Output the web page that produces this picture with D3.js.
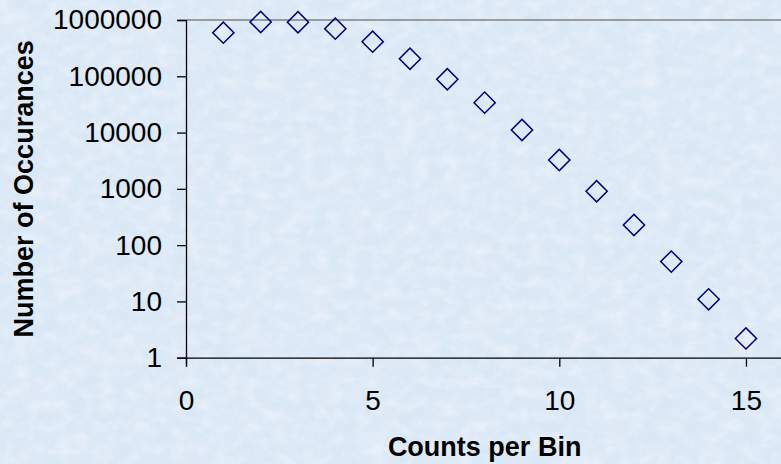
<!DOCTYPE html>
<html>
<head>
<meta charset="utf-8">
<script src="https://cdn.jsdelivr.net/npm/d3@7"></script>
<style>
  html, body { margin: 0; padding: 0; overflow: hidden; background: #d9e7f5; }
  svg { display: block; }
</style>
</head>
<body>
<svg id="chart" width="781" height="464"></svg>
<script>
// Histogram of counts per bin (log scale)
const countsPerBin = [1, 2, 3, 4, 5, 6, 7, 8, 9, 10, 11, 12, 13, 14, 15];
const occurances = [595000, 922000, 912000, 701000, 412000, 205000, 88500, 34000, 11100, 3260, 906, 228, 51, 10.9, 2.2];
const xTickValues = [0, 5, 10, 15];
const yTickValues = [1, 10, 100, 1000, 10000, 100000, 1000000];

const W = 781, H = 464;
const margin = { left: 186, top: 20, bottom: 106.3 };

const svg = d3.select("#chart");

// mottled blue paper background
const defs = svg.append("defs");
const f = defs.append("filter").attr("id", "paper")
  .attr("x", 0).attr("y", 0).attr("width", "100%").attr("height", "100%");
f.append("feTurbulence").attr("type", "fractalNoise")
  .attr("baseFrequency", "0.07 0.09").attr("numOctaves", 4).attr("seed", 11).attr("result", "n");
f.append("feColorMatrix").attr("in", "n").attr("type", "matrix")
  .attr("values", "0 0 0 0 1  0 0 0 0 1  0 0 0 0 1  1.3 0 0 0 -0.5");
const fp = defs.append("filter").attr("id", "tint")
  .attr("x", 0).attr("y", 0).attr("width", "100%").attr("height", "100%");
fp.append("feTurbulence").attr("type", "fractalNoise")
  .attr("baseFrequency", "0.03").attr("numOctaves", 3).attr("seed", 29).attr("result", "t");
fp.append("feColorMatrix").attr("in", "t").attr("type", "matrix")
  .attr("values", "0 0 0 0 0.89  0 0 0 0 0.86  0 0 0 0 0.94  0 1.6 0 0 -0.8");
const f2 = defs.append("filter").attr("id", "grain")
  .attr("x", 0).attr("y", 0).attr("width", "100%").attr("height", "100%");
f2.append("feTurbulence").attr("type", "fractalNoise")
  .attr("baseFrequency", "0.45").attr("numOctaves", 2).attr("seed", 3).attr("result", "g");
f2.append("feColorMatrix").attr("in", "g").attr("type", "matrix")
  .attr("values", "0 0 0 0 0.65  0 0 0 0 0.72  0 0 0 0 0.85  1.2 0 0 0 -0.6");

svg.append("rect").attr("width", W).attr("height", H).attr("fill", "#dae8f6");
svg.append("rect").attr("width", W).attr("height", H).attr("filter", "url(#tint)").attr("opacity", 0.5);
svg.append("rect").attr("width", W).attr("height", H).attr("filter", "url(#paper)").attr("opacity", 0.55);
svg.append("rect").attr("width", W).attr("height", H).attr("filter", "url(#grain)").attr("opacity", 0.3);

const x = d3.scaleLinear().domain([0, 16]).range([margin.left, margin.left + 16 * 37.33]);
const y = d3.scaleLog().domain([1, 1e6]).range([H - margin.bottom, margin.top]);

// plot frame top edge
svg.append("line")
  .attr("x1", x(0)).attr("x2", x(16))
  .attr("y1", y(1e6)).attr("y2", y(1e6))
  .attr("stroke", "#808080").attr("stroke-width", 1.6);

const font = "'Liberation Sans', Arial, sans-serif";

// y axis
const yAxis = svg.append("g")
  .attr("transform", `translate(${x(0)},0)`)
  .call(d3.axisLeft(y).tickValues(yTickValues).tickFormat(d3.format("d"))
    .tickSizeOuter(0).tickSize(9).tickPadding(15));
// x axis
const xAxis = svg.append("g")
  .attr("transform", `translate(0,${y(1)})`)
  .call(d3.axisBottom(x).tickValues(xTickValues)
    .tickSizeOuter(0).tickSize(9).tickPadding(23));

[yAxis, xAxis].forEach(g => {
  g.select(".domain").attr("stroke", "#000").attr("stroke-width", 1.3);
  g.selectAll(".tick line").attr("stroke", "#000").attr("stroke-width", 1.3);
  g.selectAll(".tick text")
    .attr("fill", "#000")
    .style("font-family", font)
    .style("font-size", "28px");
});

// markers: open diamonds
const diamond = d3.symbol().type(d3.symbolSquare).size(225);
svg.append("g").selectAll("path")
  .data(countsPerBin.map((c, i) => ({ c, v: occurances[i] })))
  .join("path")
  .attr("d", diamond)
  .attr("transform", d => `translate(${x(d.c)},${y(d.v)}) rotate(45)`)
  .attr("fill", "none")
  .attr("stroke", "#000080")
  .attr("stroke-width", 1.5);

// axis titles
svg.append("text")
  .attr("x", (x(0) + x(16)) / 2).attr("y", 456)
  .attr("text-anchor", "middle")
  .style("font-family", font).style("font-weight", "bold").style("font-size", "27px")
  .text("Counts per Bin");

svg.append("text")
  .attr("transform", `translate(33,${(y(1) + y(1e6)) / 2}) rotate(-90)`)
  .attr("text-anchor", "middle")
  .style("font-family", font).style("font-weight", "bold").style("font-size", "27px")
  .text("Number of Occurances");
</script>
</body>
</html>
